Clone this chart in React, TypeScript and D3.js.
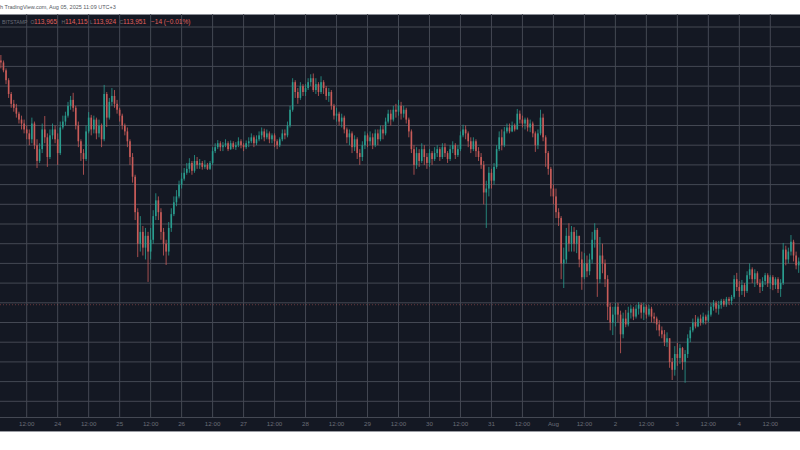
import React from "react";
import * as d3 from "d3";

const W = 800;
const H = 450;

// hourly candles, BTC/USD (Bitstamp), first candle Jul 23 2025 02:00
const START_UTC = Date.UTC(2025, 6, 23, 2);
const FIRST_OPEN = 120150;

const CLOSE = [
  120100,119900,119650,119300,119050,118950,118800,118650,118550,118400,118300,118150,118550,118000,117600,117900,118400,118200,117700,118250,118400,118150,117800,118450,
  118600,118750,119000,119150,118950,118500,118100,117800,117650,118350,118700,118400,118650,118300,118500,118150,119300,118700,119100,119250,119050,118900,118750,118500,
  118350,118100,117700,117200,116300,115500,115800,115400,115700,115300,115600,116200,116600,116300,115800,115500,115300,115900,116250,116550,116700,117000,117150,117300,
  117400,117550,117350,117600,117500,117550,117450,117500,117400,117550,117850,117950,118050,117950,118000,118050,117900,118050,117950,118000,118100,118000,117950,118050,
  118100,118200,118050,118150,118250,118350,118200,118300,118150,118250,118100,118000,118150,118300,118250,118500,118900,119600,119350,119200,119500,119350,119450,119600,
  119700,119400,119550,119350,119600,119450,119250,119350,119000,118750,118800,118600,118700,118400,118200,118300,117950,118150,117800,117700,118000,118250,118100,118200,
  118000,118300,118150,118400,118300,118600,118800,118650,118900,118850,119000,118800,118900,118650,118350,117900,117500,117800,117600,117900,117700,117550,117800,117650,
  117800,117900,117700,117950,117800,117650,117900,118000,117750,117900,118250,118400,118300,118100,117900,118100,117850,117700,117500,116800,116900,117300,117100,117450,
  117900,118200,118000,118350,118450,118350,118500,118400,118800,118650,118550,118650,118450,118550,118300,118000,118300,118700,118200,117800,117400,116900,116700,116300,
  116150,115000,115100,115700,115500,115800,115500,115700,115100,114650,115000,114800,115100,115600,115850,114600,115200,115000,114600,113900,113500,113700,113900,113700,
  113200,113600,113450,113750,113850,113650,113850,113950,113750,113900,113700,113850,113650,113600,113450,113300,113200,113000,113100,112500,112300,112700,112600,112850,
  112500,112700,113100,113300,113500,113400,113600,113500,113650,113550,113700,113900,114000,113850,113950,114050,113950,114100,114050,114150,114600,114400,114300,114450,
  114300,114700,114850,114600,114750,114500,114400,114550,114700,114500,114650,114450,114600,114350,114500,115350,115100,115300,115550,115200,114950,115050,
];

const HIGH = [
  120290,120150,119950,119700,119350,119150,119050,118850,118750,118650,118500,118400,118700,118600,118150,118050,118550,118740,118300,118400,118550,118500,118300,118600,
  118750,118850,119100,119250,119330,119000,118600,118150,117900,118500,118840,118770,118750,118700,118650,118550,119530,119350,119200,119450,119400,119150,118950,118800,
  118550,118450,118150,117800,117250,116400,116200,115950,115900,115800,115900,116350,116780,116700,116400,115900,115600,116050,116400,116700,116860,117100,117300,117420,
  117550,117670,117600,117750,117700,117650,117600,117620,117550,117600,117950,118050,118130,118100,118080,118150,118100,118120,118100,118080,118200,118150,118050,118120,
  118200,118300,118250,118250,118350,118450,118420,118400,118350,118300,118300,118150,118200,118400,118400,118600,119000,119700,119650,119450,119600,119550,119550,119700,
  119800,119820,119700,119600,119750,119650,119500,119450,119400,119050,118950,118850,118800,118750,118450,118400,118350,118250,118200,117900,118100,118350,118300,118350,
  118300,118400,118400,118500,118500,118700,118900,118900,119000,119050,119150,119100,119000,118950,118700,118400,118000,117950,117900,118050,118000,117800,117900,117850,
  117950,118000,117950,118050,118050,117850,118000,118100,118050,118000,118350,118520,118500,118350,118200,118200,118150,117950,117800,117600,117100,117450,117400,117550,
  118000,118350,118400,118460,118550,118550,118600,118550,118920,118880,118750,118700,118700,118650,118600,118350,118400,118900,118800,118250,117850,117450,117000,116900,
  116400,116200,115400,115900,116020,115950,115920,115850,115700,115300,115260,115200,115250,115800,116020,115900,115670,115500,115100,114700,114000,113900,114000,114000,
  113800,113750,113820,113900,113940,113900,113950,114020,114000,114000,113950,113950,113900,113750,113650,113560,113400,113310,113250,113100,112600,112900,112980,112950,
  112880,112800,113200,113390,113600,113690,113650,113700,113750,113700,113800,114000,114070,114050,114050,114100,114100,114150,114150,114200,114700,114760,114550,114580,
  114500,114800,115000,114900,114850,114800,114600,114650,114760,114750,114700,114700,114650,114650,114600,115520,115450,115400,115720,115600,115300,115150,
];

const LOW = [
  119950,119850,119550,119200,118950,118850,118700,118550,118400,118300,118150,118000,118050,117900,117420,117550,117800,118050,117450,117650,118150,118050,117500,117750,
  118400,118500,118700,118900,118850,118400,117950,117600,117250,117600,118300,118250,118300,118150,118200,117950,118100,118460,118650,119000,118950,118800,118600,118400,
  118250,117950,117500,117050,116100,115160,115300,115200,115100,114530,115100,115500,116100,116100,115600,115200,114960,115200,115800,116200,116450,116650,116900,117100,
  117250,117300,117250,117300,117400,117400,117380,117400,117370,117370,117500,117800,117900,117850,117850,117950,117850,117880,117900,117880,117950,117920,117850,117900,
  117950,118050,117950,118000,118100,118150,118100,118150,118050,118050,117950,117900,117950,118100,118150,118200,118450,118850,119200,119050,119150,119250,119250,119400,
  119500,119350,119300,119250,119300,119300,119150,119100,118900,118650,118600,118500,118450,118300,118050,118000,117800,117850,117650,117500,117600,117900,117950,118000,
  117900,117950,118000,118100,118150,118250,118550,118500,118600,118700,118750,118650,118700,118550,118200,117800,117250,117400,117450,117550,117500,117400,117450,117500,
  117600,117700,117600,117650,117700,117550,117600,117800,117650,117700,117850,118200,118150,117950,117800,117850,117700,117600,117400,116500,115900,116700,116900,117000,
  117400,117850,117870,117950,118300,118300,118330,118350,118400,118550,118450,118400,118350,118330,118200,117830,117900,118250,118100,117450,117250,116700,116500,116150,
  115950,114600,114375,115000,115300,115300,115300,115260,114900,114330,114600,114650,114700,115000,115400,114150,114500,114750,114400,113560,113300,113180,113400,113500,
  112720,113100,113380,113400,113600,113560,113600,113700,113600,113560,113600,113650,113500,113480,113300,113150,113100,112900,112880,112350,112040,112150,112400,112450,
  112300,111970,112600,113000,113250,113350,113380,113420,113450,113450,113500,113650,113800,113750,113700,113850,113900,113900,113950,113950,114100,114300,114150,114200,
  114150,114250,114600,114500,114400,114450,114250,114300,114450,114400,114350,114320,114350,114250,114150,114450,114950,115000,115200,115050,114850,114760,
];

const LAST_PRICE = 113951;
const PRICE_GRID = d3.range(111500, 121001, 500);
const LEGEND_KEYS = ["O", "H", "L", "C"];
const LEGEND_VALUES = ["113,965", "114,115", "113,924", "113,951"];
const LEGEND_CHANGE = "\u221214 (\u22120.01%)";
const SYMBOL = "BITSTAMP";
const CREDIT = "h TradingView.com, Aug 05, 2025 11:09 UTC+3";

const BG = "#141823";
const GRID = "#444853";
const UP = "#2a9d8f";
const DOWN = "#c95c59";
const LEGEND_RED = "#e0605c";
const TEXT = "#6a6d77";
const FONT = "'Liberation Sans', Arial, sans-serif";

const PLOT_TOP = 14;
const AXIS_Y = 417;
const PLOT_BOTTOM = 431;

export default function App() {
  const x = d3
    .scaleUtc()
    .domain([new Date(Date.UTC(2025, 6, 23, 12)), new Date(Date.UTC(2025, 7, 4, 12))])
    .range([26.7, 770.3]);
  const y = d3.scaleLinear().domain([111500, 121000]).range([401.3, 27]);

  const candles = CLOSE.map((c, i) => {
    const o = i === 0 ? FIRST_OPEN : CLOSE[i - 1];
    return { t: new Date(START_UTC + i * 3600000), o, h: HIGH[i], l: LOW[i], c };
  });

  const ticks = d3.utcHour
    .every(12)!
    .range(new Date(Date.UTC(2025, 6, 23, 12)), new Date(Date.UTC(2025, 7, 5, 1)));
  const fmt = (d: Date) =>
    d.getUTCHours() === 12 ? "12:00" : d.getUTCDate() === 1 ? d3.utcFormat("%b")(d) : String(d.getUTCDate());
  const labelTicks = ticks.filter((t) => x(t) < W - 12);

  const bodyW = 1.6;
  const keyX = [30.5, 61.5, 90, 119.5];
  const valX = [34, 65, 93, 123];

  return (
    <svg
      width={W}
      height={H}
      viewBox={`0 0 ${W} ${H}`}
      style={{ position: "fixed", left: 0, top: 0, background: "#ffffff" }}
      fontFamily={FONT}
    >
      <rect x={0} y={0} width={W} height={H} fill="#ffffff" />
      <text x={0} y={9} fontSize={5.5} fill="#555860">
        {CREDIT}
      </text>
      <rect x={0} y={PLOT_TOP} width={W} height={PLOT_BOTTOM - PLOT_TOP} fill={BG} />
      <line x1={0} x2={W} y1={PLOT_TOP + 0.5} y2={PLOT_TOP + 0.5} stroke="#8a8d95" />

      {/* horizontal grid */}
      {PRICE_GRID.map((p) => (
        <line key={p} x1={0} x2={W} y1={y(p)} y2={y(p)} stroke={GRID} strokeWidth={1} />
      ))}
      {/* vertical grid */}
      {ticks.map((t) => (
        <line key={+t} x1={x(t)} x2={x(t)} y1={PLOT_TOP} y2={AXIS_Y} stroke={GRID} strokeWidth={1} />
      ))}

      {/* candles */}
      {candles.map((d, i) => {
        const cx = x(d.t);
        const col = d.c >= d.o ? UP : DOWN;
        const top = y(Math.max(d.o, d.c));
        const bot = y(Math.min(d.o, d.c));
        return (
          <g key={i}>
            <line x1={cx} x2={cx} y1={y(d.h)} y2={y(d.l)} stroke={col} strokeWidth={0.8} />
            <rect x={cx - bodyW / 2} y={top} width={bodyW} height={Math.max(0.8, bot - top)} fill={col} />
          </g>
        );
      })}

      {/* last price line */}
      <line
        x1={0}
        x2={W}
        y1={y(LAST_PRICE)}
        y2={y(LAST_PRICE)}
        stroke={DOWN}
        strokeOpacity={0.45}
        strokeDasharray="1,2"
      />

      {/* legend */}
      <text x={2} y={23.5} fontSize={5.2} fill={TEXT}>
        {SYMBOL}
      </text>
      {LEGEND_KEYS.map((k, i) => (
        <g key={k}>
          <text x={keyX[i]} y={23.5} fontSize={5} fill={TEXT}>
            {k}
          </text>
          <text x={valX[i]} y={23.5} fontSize={6.5} fill={LEGEND_RED}>
            {LEGEND_VALUES[i]}
          </text>
        </g>
      ))}
      <text x={151} y={23.5} fontSize={6.5} fill={LEGEND_RED}>
        {LEGEND_CHANGE}
      </text>

      {/* time axis */}
      <rect x={0} y={AXIS_Y} width={W} height={PLOT_BOTTOM - AXIS_Y} fill={BG} />
      <line x1={0} x2={W} y1={AXIS_Y + 0.5} y2={AXIS_Y + 0.5} stroke={GRID} />
      {labelTicks.map((t) => (
        <text key={+t} x={x(t)} y={426} fontSize={6.2} fill={TEXT} textAnchor="middle">
          {fmt(t)}
        </text>
      ))}
      <line x1={0} x2={W} y1={PLOT_BOTTOM + 0.5} y2={PLOT_BOTTOM + 0.5} stroke="#9a9ca3" />
    </svg>
  );
}
